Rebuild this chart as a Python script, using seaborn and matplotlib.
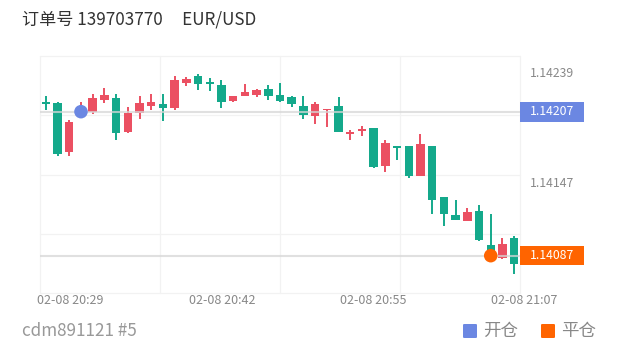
import numpy as np
import pandas as pd
import matplotlib
matplotlib.use("Agg")
import matplotlib.pyplot as plt
import seaborn as sns
from matplotlib.transforms import blended_transform_factory
from matplotlib.patches import Rectangle, FancyBboxPatch

# ---------------- data ----------------
opens = [1.14215, 1.14214, 1.14173, 1.14203, 1.14207, 1.14217, 1.14218, 1.14190, 1.14206, 1.14212,
         1.14213, 1.14210, 1.14231, 1.14237, 1.14231, 1.14229, 1.14216, 1.14220, 1.14221, 1.14226,
         1.14221, 1.14219, 1.14212, 1.14203, 1.14208, 1.14212, 1.14188, 1.14191, 1.14193, 1.14162,
         1.14178, 1.14178, 1.14153, 1.14178, 1.14136, 1.14121, 1.14116, 1.14124, 1.14096, 1.14085,
         1.14102]
closes = [1.14213, 1.14172, 1.14198, 1.14210, 1.14218, 1.14221, 1.14189, 1.14206, 1.14214, 1.14215,
          1.14210, 1.14233, 1.14234, 1.14230, 1.14230, 1.14215, 1.14220, 1.14223, 1.14225, 1.14220,
          1.14216, 1.14213, 1.14204, 1.14213, 1.14209, 1.14190, 1.14190, 1.14192, 1.14161, 1.14181,
          1.14177, 1.14153, 1.14180, 1.14133, 1.14122, 1.14117, 1.14123, 1.14100, 1.14089, 1.14097,
          1.14080]
highs = [1.14220, 1.14215, 1.14200, 1.14215, 1.14222, 1.14227, 1.14222, 1.14211, 1.14220, 1.14222,
         1.14222, 1.14237, 1.14236, 1.14238, 1.14235, 1.14233, 1.14220, 1.14230, 1.14226, 1.14229,
         1.14231, 1.14220, 1.14220, 1.14215, 1.14209, 1.14219, 1.14192, 1.14195, 1.14193, 1.14183,
         1.14178, 1.14178, 1.14188, 1.14178, 1.14136, 1.14133, 1.14127, 1.14129, 1.14122, 1.14102,
         1.14103]
lows = [1.14208, 1.14170, 1.14170, 1.14202, 1.14205, 1.14214, 1.14183, 1.14189, 1.14201, 1.14208,
        1.14199, 1.14208, 1.14228, 1.14225, 1.14224, 1.14210, 1.14215, 1.14220, 1.14219, 1.14217,
        1.14215, 1.14211, 1.14201, 1.14197, 1.14194, 1.14190, 1.14183, 1.14187, 1.14160, 1.14157,
        1.14167, 1.14152, 1.14153, 1.14122, 1.14112, 1.14117, 1.14116, 1.14099, 1.14088, 1.14084,
        1.14072]
time_labels = ["02-08 20:29", "02-08 20:42", "02-08 20:55", "02-08 21:07"]
axis_prices = [1.14239, 1.14147]
open_price = 1.14207
close_price = 1.14087
open_candle = 3
close_candle = 38
title_text = "订单号 139703770     EUR/USD"
footer_text = "cdm891121 #5"
legend_labels = ["开仓", "平仓"]

# ---------------- layout / style ----------------
W, H = 620, 352
GREEN = "#14a98b"
RED = "#eb5062"
BLUE = "#6b87e2"
ORANGE = "#ff6400"
label_pos = [2.1, 15.05, 28.0, 40.9]
y_lo, y_hi = 1.140559, 1.142534
px_per_unit = 237 / (y_hi - y_lo)

sns.set_theme(style="white")
plt.rcParams['font.family'] = ['Noto Sans CJK SC', 'DejaVu Sans']

fig = plt.figure(figsize=(W / 100, H / 100), dpi=100)
ax = fig.add_axes([40 / W, 59 / H, 480 / W, 237 / H])

df = pd.DataFrame({"idx": np.arange(len(opens)), "open": opens, "close": closes,
                   "high": highs, "low": lows})
df["up"] = df["close"] >= df["open"]
df["color"] = np.where(df["up"], RED, GREEN)
df["bottom"] = df[["open", "close"]].min(axis=1)
df["height"] = (df["close"] - df["open"]).abs().clip(lower=0.000016)

# grid
for f in [0, 0.25, 0.5, 0.75, 1.0]:
    ax.plot([0, 1], [f, f], transform=ax.transAxes, color="#f2f2f2", lw=0.9, zorder=0, clip_on=False)
    ax.plot([f, f], [0, 1], transform=ax.transAxes, color="#f2f2f2", lw=0.9, zorder=0, clip_on=False)

ax.vlines(df["idx"], df["low"], df["high"], colors=df["color"], lw=1.4, zorder=2)
ax.bar(df["idx"], df["height"], bottom=df["bottom"], width=0.72, color=df["color"],
       linewidth=0, zorder=3)

ax.axhline(open_price, color="#d6d6d6", lw=1.5, alpha=0.75, zorder=4)
ax.axhline(close_price, color="#d6d6d6", lw=1.5, alpha=0.75, zorder=4)

mk = pd.DataFrame({"x": [open_candle, close_candle], "y": [open_price, close_price],
                   "kind": legend_labels})
sns.scatterplot(data=mk, x="x", y="y", hue="kind", palette=[BLUE, ORANGE], s=95,
                linewidth=0, legend=False, ax=ax, zorder=5)

ax.set_xlim(-0.5, len(opens) - 0.5)
ax.set_ylim(y_lo, y_hi)
ax.set_xticks([])
ax.set_yticks([])
ax.set_xlabel("")
ax.set_ylabel("")
for s in ax.spines.values():
    s.set_visible(False)

# x labels
tx = blended_transform_factory(ax.transData, ax.transAxes)
for p, lab in zip(label_pos, time_labels):
    ax.text(p, -7 / 237, lab, transform=tx, ha="center", va="center", fontsize=9,
            color="#888888", clip_on=False)

# right price labels
ty = blended_transform_factory(ax.transAxes, ax.transData)
for p in axis_prices:
    ax.text(1 + 10 / 480, p, f"{p:.5f}", transform=ty, ha="left", va="center",
            fontsize=8.8, color="#888888", clip_on=False)

for p, col, hpx in [(open_price, BLUE, 20), (close_price, ORANGE, 19)]:
    h = hpx / px_per_unit
    ax.add_patch(Rectangle((1.0, p - h / 2), 64 / 480, h, transform=ty, color=col,
                           clip_on=False, zorder=6, linewidth=0))
    ax.text(1 + 32 / 480, p, f"{p:.5f}", transform=ty, ha="center", va="center",
            fontsize=8.8, color="white", clip_on=False, zorder=7)

# title and footer
fig.text(22 / W, 1 - 20 / H, title_text, fontsize=12.3, color="#333333", va="center", ha="left")
fig.text(22 / W, 1 - 331 / H, footer_text, fontsize=12.3, color="#999999", va="center", ha="left")

# legend
for x0, col, lab in [(463, BLUE, legend_labels[0]), (541, ORANGE, legend_labels[1])]:
    fig.patches.append(FancyBboxPatch((x0 / W, (H - 338) / H), 14 / W, 14 / H,
                                      boxstyle="round,pad=0,rounding_size=0.0025",
                                      transform=fig.transFigure, color=col, linewidth=0))
    fig.text((x0 + 20) / W, 1 - 331 / H, lab, fontsize=12.6, color="#888888", va="center", ha="left")

fig.savefig("out.png", dpi=100)
